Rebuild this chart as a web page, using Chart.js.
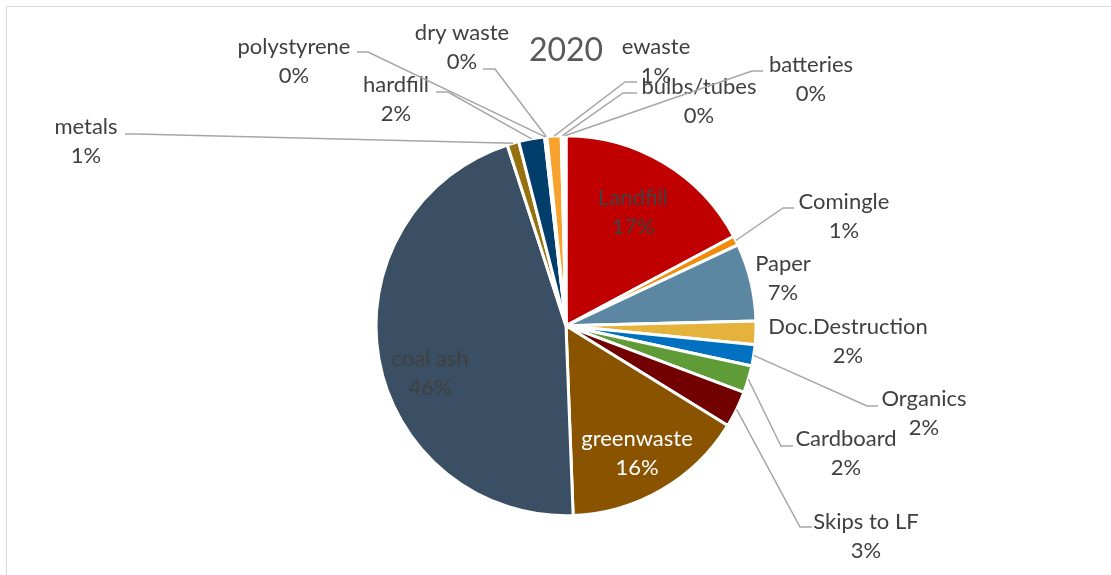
<!DOCTYPE html>
<html>
<head>
<meta charset="utf-8">
<title>2020</title>
<script src="https://cdn.jsdelivr.net/npm/chart.js@4.4.1/dist/chart.umd.min.js"></script>
<style>
  html, body { margin: 0; padding: 0; background: #fff; overflow: hidden; }
  #wrap { position: relative; width: 1111px; height: 575px; }
</style>
</head>
<body>
<div id="wrap"><canvas id="chartWaste"></canvas></div>
<script>
// ---- data (% share of 2020 waste) ----
const categories = ["Landfill", "Comingle", "Paper", "Doc.Destruction", "Organics", "Cardboard", "Skips to LF",
  "greenwaste", "coal ash", "metals", "hardfill", "polystyrene", "dry waste", "ewaste", "bulbs/tubes", "batteries"];
const shares = [17.2, 0.8, 6.6, 2.0, 1.8, 2.3, 3.1, 15.6, 45.6, 1.0, 2.2, 0.1, 0.1, 1.2, 0.2, 0.2];
const sliceColors = ["#C00000", "#F08C0A", "#5B87A3", "#E5B33C", "#0070C0", "#5F9B37", "#720000",
  "#8A5300", "#3A4F63", "#97700F", "#023E6B", "#7F7F7F", "#A5A5A5", "#F7A22C", "#264478", "#9E480E"];
const chartTitle = "2020";

// ---- label placement (Excel-style data labels, canvas px) ----
// tx/ty: centre of first text line; ex/lx/ly: leader elbow + end of horizontal stub
const LABELS = {
  "Landfill":        { tx: 633, ty: 198, color: "#404040" },
  "Comingle":        { tx: 844, ty: 202, ex: 783, lx: 794, ly: 208 },
  "Paper":           { tx: 783, ty: 264 },
  "Doc.Destruction": { tx: 848, ty: 327 },
  "Organics":        { tx: 924, ty: 399, ex: 867, lx: 878, ly: 406 },
  "Cardboard":       { tx: 846, ty: 439, ex: 781, lx: 793, ly: 446 },
  "Skips to LF":     { tx: 866, ty: 522, ex: 800, lx: 812, ly: 527 },
  "greenwaste":      { tx: 637, ty: 439, color: "#FFFFFF" },
  "coal ash":        { tx: 430, ty: 359, color: "#404040" },
  "metals":          { tx: 86,  ty: 127, ex: 136, lx: 125, ly: 134 },
  "hardfill":        { tx: 396, ty: 85,  ex: 448, lx: 436, ly: 92 },
  "polystyrene":     { tx: 294, ty: 47,  ex: 368, lx: 357, ly: 52 },
  "dry waste":       { tx: 462, ty: 33,  ex: 495, lx: 483, ly: 69 },
  "ewaste":          { tx: 656, ty: 47,  ex: 625, lx: 637, ly: 82 },
  "bulbs/tubes":     { tx: 699, ty: 87,  ex: 623, lx: 637, ly: 93 },
  "batteries":       { tx: 811, ty: 65,  ex: 752, lx: 763, ly: 71 },
};

const FONT = "Lato, 'Open Sans', sans-serif";
const LINE_GAP = 29;

// light frame like the Excel chart area border
const framePlugin = {
  id: "frame",
  beforeDraw(chart) {
    const ctx = chart.ctx;
    ctx.save();
    ctx.strokeStyle = "#D9D9D9";
    ctx.lineWidth = 1;
    ctx.beginPath();
    ctx.moveTo(6.5, chart.height);
    ctx.lineTo(6.5, 6.5);
    ctx.lineTo(chart.width, 6.5);
    ctx.stroke();
    ctx.restore();
  },
};

const labelPlugin = {
  id: "sliceLabels",
  afterDatasetsDraw(chart) {
    const ctx = chart.ctx;
    const meta = chart.getDatasetMeta(0);
    const data = chart.data.datasets[0].data;
    const total = data.reduce((a, b) => a + b, 0);
    ctx.save();
    ctx.font = "22px " + FONT;
    ctx.textAlign = "center";
    ctx.textBaseline = "middle";
    meta.data.forEach((arc, i) => {
      const name = chart.data.labels[i];
      const pos = LABELS[name];
      if (!pos) return;
      const p = arc.getProps(["x", "y", "startAngle", "endAngle", "outerRadius"], true);
      const mid = (p.startAngle + p.endAngle) / 2;
      if (pos.ex !== undefined) {
        const ax = p.x + Math.cos(mid) * p.outerRadius;
        const ay = p.y + Math.sin(mid) * p.outerRadius;
        ctx.strokeStyle = "#A6A6A6";
        ctx.lineWidth = 1.5;
        ctx.beginPath();
        ctx.moveTo(ax, ay);
        ctx.lineTo(pos.ex, pos.ly);
        ctx.lineTo(pos.lx, pos.ly);
        ctx.stroke();
      }
      ctx.fillStyle = pos.color || "#404040";
      ctx.fillText(name, pos.tx, pos.ty);
      ctx.fillText(Math.round(data[i] / total * 100) + "%", pos.tx, pos.ty + LINE_GAP);
    });
    ctx.restore();
  },
};

new Chart(document.getElementById("chartWaste").getContext("2d"), {
  type: "pie",
  data: {
    labels: categories,
    datasets: [{ data: shares, backgroundColor: sliceColors, borderColor: "#FFFFFF", borderWidth: 3, hoverOffset: 0 }],
  },
  options: {
    responsive: true,
    maintainAspectRatio: false,
    animation: false,
    radius: 190,
    layout: { padding: { left: 21, top: 0, right: 0, bottom: 0 } },
    plugins: {
      legend: { display: false },
      tooltip: { enabled: false },
      title: {
        display: true,
        text: chartTitle,
        color: "#595959",
        font: { family: FONT, size: 32, weight: "normal" },
        padding: { top: 31, bottom: 7 },
      },
    },
  },
  plugins: [framePlugin, labelPlugin],
});
</script>
</body>
</html>
